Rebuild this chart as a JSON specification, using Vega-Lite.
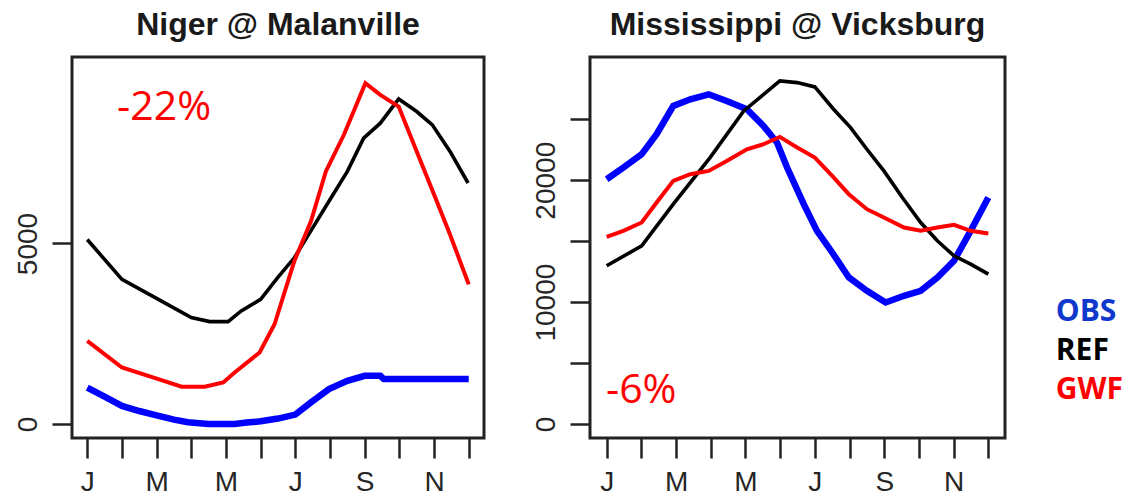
{
  "$schema": "https://vega.github.io/schema/vega-lite/v6.json",
  "background": "white",
  "padding": {"left": 12, "top": 7, "right": 0, "bottom": 0},
  "spacing": 44,
  "datasets": {
    "niger": [
      {"series": "OBS", "month": 1, "value": 1010},
      {"series": "OBS", "month": 1.5, "value": 760},
      {"series": "OBS", "month": 2, "value": 500},
      {"series": "OBS", "month": 2.5, "value": 360},
      {"series": "OBS", "month": 3, "value": 240},
      {"series": "OBS", "month": 3.5, "value": 120},
      {"series": "OBS", "month": 3.9, "value": 50},
      {"series": "OBS", "month": 4.5, "value": 0},
      {"series": "OBS", "month": 5.25, "value": 0},
      {"series": "OBS", "month": 5.6, "value": 40},
      {"series": "OBS", "month": 6, "value": 74},
      {"series": "OBS", "month": 6.5, "value": 150},
      {"series": "OBS", "month": 7, "value": 260},
      {"series": "OBS", "month": 7.45, "value": 600},
      {"series": "OBS", "month": 7.97, "value": 967},
      {"series": "OBS", "month": 8.5, "value": 1197},
      {"series": "OBS", "month": 9, "value": 1335},
      {"series": "OBS", "month": 9.45, "value": 1335},
      {"series": "OBS", "month": 9.55, "value": 1245},
      {"series": "OBS", "month": 10, "value": 1245},
      {"series": "OBS", "month": 11, "value": 1245},
      {"series": "OBS", "month": 12, "value": 1245},
      {"series": "REF", "month": 1, "value": 5110},
      {"series": "REF", "month": 2, "value": 4006},
      {"series": "REF", "month": 3.05, "value": 3453},
      {"series": "REF", "month": 4, "value": 2947},
      {"series": "REF", "month": 4.53, "value": 2836},
      {"series": "REF", "month": 5.06, "value": 2836},
      {"series": "REF", "month": 5.44, "value": 3131},
      {"series": "REF", "month": 6, "value": 3453},
      {"series": "REF", "month": 6.49, "value": 4052},
      {"series": "REF", "month": 6.97, "value": 4604},
      {"series": "REF", "month": 7.5, "value": 5433},
      {"series": "REF", "month": 7.97, "value": 6169},
      {"series": "REF", "month": 8.5, "value": 6998},
      {"series": "REF", "month": 8.97, "value": 7919},
      {"series": "REF", "month": 9.45, "value": 8333},
      {"series": "REF", "month": 9.98, "value": 9005},
      {"series": "REF", "month": 10.5, "value": 8656},
      {"series": "REF", "month": 10.95, "value": 8287},
      {"series": "REF", "month": 11.46, "value": 7551},
      {"series": "REF", "month": 11.98, "value": 6676},
      {"series": "GWF", "month": 1, "value": 2302},
      {"series": "GWF", "month": 2, "value": 1565},
      {"series": "GWF", "month": 3.05, "value": 1243},
      {"series": "GWF", "month": 3.72, "value": 1031},
      {"series": "GWF", "month": 4.39, "value": 1031},
      {"series": "GWF", "month": 4.92, "value": 1151},
      {"series": "GWF", "month": 5.25, "value": 1427},
      {"series": "GWF", "month": 5.97, "value": 1980},
      {"series": "GWF", "month": 6.4, "value": 2762},
      {"series": "GWF", "month": 6.97, "value": 4512},
      {"series": "GWF", "month": 7.45, "value": 5617},
      {"series": "GWF", "month": 7.88, "value": 6998},
      {"series": "GWF", "month": 8.4, "value": 8011},
      {"series": "GWF", "month": 9.02, "value": 9440},
      {"series": "GWF", "month": 9.45, "value": 9116},
      {"series": "GWF", "month": 9.98, "value": 8794},
      {"series": "GWF", "month": 10.5, "value": 7551},
      {"series": "GWF", "month": 11, "value": 6354},
      {"series": "GWF", "month": 11.46, "value": 5249},
      {"series": "GWF", "month": 12, "value": 3867}
    ],
    "miss": [
      {"series": "OBS", "month": 1, "value": 20081},
      {"series": "OBS", "month": 1.48, "value": 21038},
      {"series": "OBS", "month": 2.01, "value": 22131},
      {"series": "OBS", "month": 2.44, "value": 23770},
      {"series": "OBS", "month": 2.92, "value": 26092},
      {"series": "OBS", "month": 3.41, "value": 26638},
      {"series": "OBS", "month": 3.94, "value": 27048},
      {"series": "OBS", "month": 4.46, "value": 26502},
      {"series": "OBS", "month": 5.04, "value": 25820},
      {"series": "OBS", "month": 5.52, "value": 24453},
      {"series": "OBS", "month": 5.91, "value": 23087},
      {"series": "OBS", "month": 6.2, "value": 21038},
      {"series": "OBS", "month": 6.68, "value": 18033},
      {"series": "OBS", "month": 7.06, "value": 15847},
      {"series": "OBS", "month": 7.5, "value": 14071},
      {"series": "OBS", "month": 7.98, "value": 12022},
      {"series": "OBS", "month": 8.5, "value": 10929},
      {"series": "OBS", "month": 9.04, "value": 9973},
      {"series": "OBS", "month": 9.57, "value": 10519},
      {"series": "OBS", "month": 10.05, "value": 10929},
      {"series": "OBS", "month": 10.53, "value": 12022},
      {"series": "OBS", "month": 11.01, "value": 13387},
      {"series": "OBS", "month": 11.49, "value": 15847},
      {"series": "OBS", "month": 12, "value": 18580},
      {"series": "REF", "month": 1, "value": 12978},
      {"series": "REF", "month": 2.01, "value": 14617},
      {"series": "REF", "month": 2.92, "value": 18033},
      {"series": "REF", "month": 3.98, "value": 21858},
      {"series": "REF", "month": 4.95, "value": 25683},
      {"series": "REF", "month": 5.99, "value": 28142},
      {"series": "REF", "month": 6.49, "value": 28005},
      {"series": "REF", "month": 7, "value": 27650},
      {"series": "REF", "month": 7.54, "value": 25820},
      {"series": "REF", "month": 8.03, "value": 24317},
      {"series": "REF", "month": 8.5, "value": 22541},
      {"series": "REF", "month": 8.99, "value": 20765},
      {"series": "REF", "month": 9.52, "value": 18580},
      {"series": "REF", "month": 10.05, "value": 16530},
      {"series": "REF", "month": 10.53, "value": 15028},
      {"series": "REF", "month": 11.01, "value": 13798},
      {"series": "REF", "month": 11.49, "value": 13115},
      {"series": "REF", "month": 12, "value": 12295},
      {"series": "GWF", "month": 1, "value": 15355},
      {"series": "GWF", "month": 1.48, "value": 15847},
      {"series": "GWF", "month": 2.01, "value": 16530},
      {"series": "GWF", "month": 2.44, "value": 18170},
      {"series": "GWF", "month": 2.92, "value": 19945},
      {"series": "GWF", "month": 3.41, "value": 20492},
      {"series": "GWF", "month": 3.94, "value": 20765},
      {"series": "GWF", "month": 4.46, "value": 21585},
      {"series": "GWF", "month": 5.04, "value": 22541},
      {"series": "GWF", "month": 5.52, "value": 22951},
      {"series": "GWF", "month": 5.99, "value": 23552},
      {"series": "GWF", "month": 6.49, "value": 22678},
      {"series": "GWF", "month": 7, "value": 21858},
      {"series": "GWF", "month": 7.5, "value": 20355},
      {"series": "GWF", "month": 7.98, "value": 18852},
      {"series": "GWF", "month": 8.5, "value": 17623},
      {"series": "GWF", "month": 8.99, "value": 16940},
      {"series": "GWF", "month": 9.57, "value": 16120},
      {"series": "GWF", "month": 10.05, "value": 15847},
      {"series": "GWF", "month": 10.53, "value": 16120},
      {"series": "GWF", "month": 11.01, "value": 16338},
      {"series": "GWF", "month": 11.49, "value": 15847},
      {"series": "GWF", "month": 12, "value": 15628}
    ],
    "legend": [
      {"label": "OBS"},
      {"label": "REF"},
      {"label": "GWF"}
    ]
  },
  "config": {
    "view": {"stroke": "#222222", "strokeWidth": 3},
    "font": "Liberation Sans",
    "title": {"font": "Liberation Sans", "fontSize": 32, "fontWeight": "bold", "color": "#1a1a1a", "anchor": "middle", "baseline": "alphabetic", "offset": 15},
    "axis": {
      "domain": false, "grid": false, "title": null,
      "tickColor": "#222222", "tickWidth": 2.5, "tickSize": 20,
      "labelFont": "Liberation Sans", "labelFontSize": 28, "labelColor": "#262626",
      "labelPadding": 10, "labelOverlap": false, "labelFlush": false
    }
  },
  "hconcat": [
    {
      "width": 412, "height": 381,
      "title": "Niger @ Malanville",
      "data": {"name": "niger"},
      "encoding": {
        "x": {"field": "month", "type": "quantitative", "scale": {"domain": [0.56, 12.44], "nice": false, "zero": false},
          "axis": {"values": [1,2,3,4,5,6,7,8,9,10,11,12], "labelExpr": "datum.value % 2 == 1 ? ['J','F','M','A','M','J','J','A','S','O','N','D'][datum.value - 1] : ''"}},
        "y": {"field": "value", "type": "quantitative", "scale": {"domain": [-388, 10166], "nice": false, "zero": false},
          "axis": {"values": [0, 5000], "format": "d", "labelAngle": 270, "labelAlign": "center", "labelBaseline": "bottom"}}
      },
      "layer": [
        {"transform": [{"filter": "datum.series == 'OBS'"}], "mark": {"type": "line", "color": "#0000ff", "strokeWidth": 6.5}},
        {"transform": [{"filter": "datum.series == 'REF'"}], "mark": {"type": "line", "color": "#000000", "strokeWidth": 3.6}},
        {"transform": [{"filter": "datum.series == 'GWF'"}], "mark": {"type": "line", "color": "#ff0000", "strokeWidth": 4}},
        {
          "data": {"values": [{"month": 1.86, "value": 8420, "text": "-22%"}]},
          "mark": {"type": "text", "align": "left", "baseline": "alphabetic", "font": "Open Sans", "fontSize": 41, "color": "#ff0000"},
          "encoding": {"text": {"field": "text"}}
        }
      ]
    },
    {
      "width": 415, "height": 381,
      "title": "Mississippi @ Vicksburg",
      "data": {"name": "miss"},
      "encoding": {
        "x": {"field": "month", "type": "quantitative", "scale": {"domain": [0.52, 12.48], "nice": false, "zero": false},
          "axis": {"values": [1,2,3,4,5,6,7,8,9,10,11,12], "labelExpr": "datum.value % 2 == 1 ? ['J','F','M','A','M','J','J','A','S','O','N','D'][datum.value - 1] : ''"}},
        "y": {"field": "value", "type": "quantitative", "scale": {"domain": [-1148, 30107], "nice": false, "zero": false},
          "axis": {"values": [0, 5000, 10000, 15000, 20000, 25000], "format": "d", "labelExpr": "datum.value % 10000 == 0 ? datum.label : ''", "labelAngle": 270, "labelAlign": "center", "labelBaseline": "bottom"}}
      },
      "layer": [
        {"transform": [{"filter": "datum.series == 'OBS'"}], "mark": {"type": "line", "color": "#0000ff", "strokeWidth": 6.5}},
        {"transform": [{"filter": "datum.series == 'REF'"}], "mark": {"type": "line", "color": "#000000", "strokeWidth": 3.6}},
        {"transform": [{"filter": "datum.series == 'GWF'"}], "mark": {"type": "line", "color": "#ff0000", "strokeWidth": 4}},
        {
          "data": {"values": [{"month": 0.98, "value": 1723, "text": "-6%"}]},
          "mark": {"type": "text", "align": "left", "baseline": "alphabetic", "font": "Open Sans", "fontSize": 41, "color": "#ff0000"},
          "encoding": {"text": {"field": "text"}}
        }
      ]
    },
    {
      "width": 80, "height": 381,
      "view": {"stroke": null},
      "data": {"name": "legend"},
      "mark": {"type": "text", "align": "left", "baseline": "middle", "font": "Open Sans", "fontSize": 30, "fontWeight": "bold"},
      "encoding": {
        "x": {"datum": 0.06, "type": "quantitative", "scale": {"domain": [0, 1]}, "axis": null},
        "y": {"field": "label", "type": "nominal", "sort": ["OBS", "REF", "GWF"], "scale": {"type": "point", "padding": 0, "range": [255, 333]}, "axis": null},
        "text": {"field": "label"},
        "color": {"field": "label", "type": "nominal", "scale": {"domain": ["OBS", "REF", "GWF"], "range": ["#1038cc", "#000000", "#ff0000"]}, "legend": null}
      }
    }
  ]
}
